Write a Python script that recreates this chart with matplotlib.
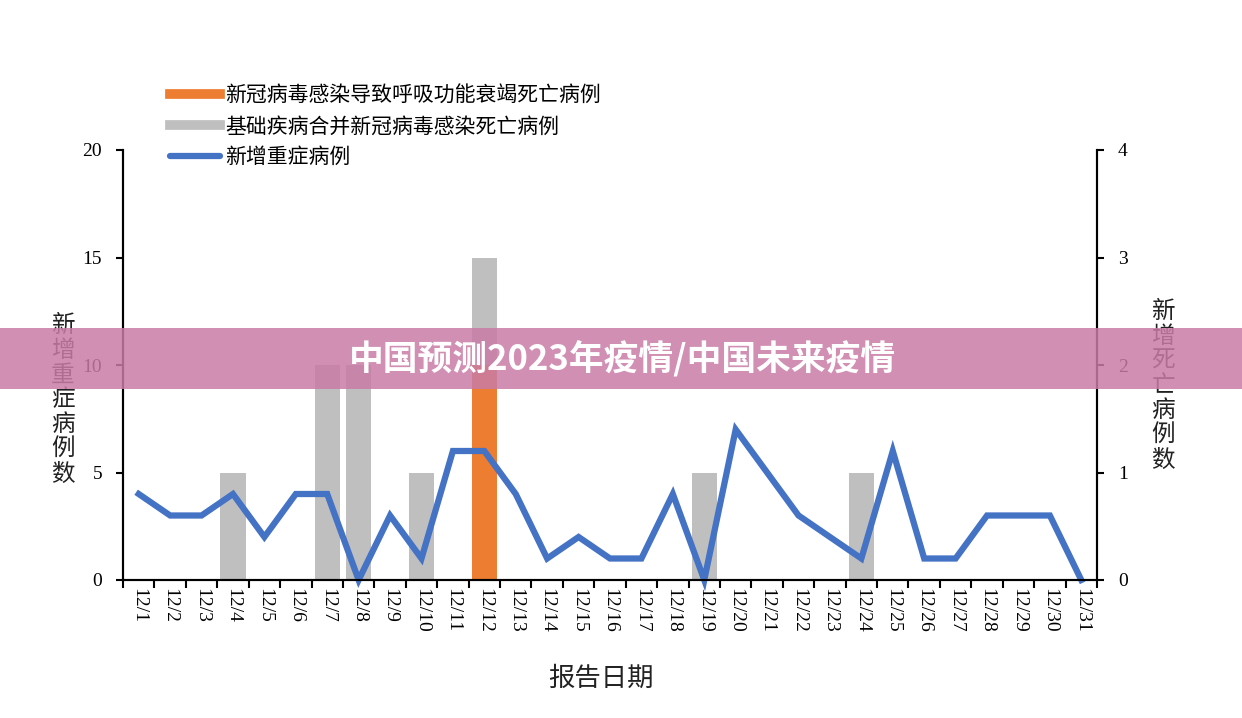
import matplotlib.pyplot as plt
from matplotlib.lines import Line2D
from matplotlib.patches import Rectangle
import numpy as np

plt.rcParams['font.family'] = ['Noto Sans CJK SC', 'DejaVu Sans']

# Data
dates = ['12/%d' % d for d in range(1, 32)]
severe = [4, 3, 3, 4, 2, 4, 4, 0, 3, 1, 6, 6, 4, 1, 2, 1, 1, 4, 0, 7, 5, 3, 2, 1, 6, 1, 1, 3, 3, 3, 0]
resp_deaths = [0, 0, 0, 0, 0, 0, 0, 0, 0, 0, 0, 2, 0, 0, 0, 0, 0, 0, 0, 0, 0, 0, 0, 0, 0, 0, 0, 0, 0, 0, 0]
comorb_deaths = [0, 0, 0, 1, 0, 0, 2, 2, 0, 1, 0, 1, 0, 0, 0, 0, 0, 0, 1, 0, 0, 0, 0, 1, 0, 0, 0, 0, 0, 0, 0]

left_ticks = [0, 5, 10, 15, 20]
right_ticks = [0, 1, 2, 3, 4]

lbl_resp = '新冠病毒感染导致呼吸功能衰竭死亡病例'
lbl_comorb = '基础疾病合并新冠病毒感染死亡病例'
lbl_severe = '新增重症病例'

orange = '#ED7D31'
grey = '#BFBFBF'
blue = '#4472C4'
serif = 'Liberation Serif'

fig = plt.figure(figsize=(12.42, 7.18), dpi=100)
ax = fig.add_axes([123 / 1242, 1 - 580 / 718, (1097 - 123) / 1242, (580 - 150) / 718])
ax2 = ax.twinx()

x = np.arange(len(dates))

# bars on the right axis
ax2.bar(x, resp_deaths, width=0.8, color=orange)
ax2.bar(x, comorb_deaths, width=0.8, bottom=resp_deaths, color=grey)
ax2.set_ylim(0, 4)
ax2.set_yticks(right_ticks)

# line on the left axis, drawn above the bars
ax.plot(x, severe, color=blue, lw=4.5, solid_joinstyle='miter', clip_on=False)
ax.set_ylim(0, 20)
ax.set_yticks(left_ticks)
ax.set_xlim(-0.5, len(dates) - 0.5)
ax.set_zorder(ax2.get_zorder() + 1)
ax.patch.set_visible(False)

# ticks between categories, labels at category centres
ax.set_xticks(np.arange(len(dates) + 1) - 0.5)
ax.set_xticklabels([])
ax.set_xticks(x, minor=True)
ax.set_xticklabels(dates, minor=True, rotation=-90, fontfamily=serif, fontsize=14, va='top')
ax.tick_params(axis='x', which='minor', length=0, pad=6)
ax.tick_params(axis='x', which='major', length=6, width=1.5, direction='out')

for a in (ax, ax2):
    a.spines['top'].set_visible(False)
    for s in ('left', 'right', 'bottom'):
        a.spines[s].set_linewidth(1.5)
ax.tick_params(axis='y', length=5, width=1.5, labelsize=14, pad=10)
ax2.tick_params(axis='y', length=5, width=1.5, labelsize=14, pad=10)
for t in ax.get_yticklabels() + ax2.get_yticklabels():
    t.set_fontfamily(serif)

# axis titles, characters stacked vertically
fig.text(63 / 1242, 1 - 400 / 718, '\n'.join('新增重症病例数'), ha='center', va='center',
         fontsize=17, linespacing=1.1, color='#222222')
fig.text(1163 / 1242, 1 - 386 / 718, '\n'.join('新增死亡病例数'), ha='center', va='center',
         fontsize=17, linespacing=1.1, color='#222222')
fig.text(601 / 1242, 1 - 678 / 718, '报告日期', ha='center', va='center', fontsize=19, color='#222222')

# legend
handles = [Line2D([], [], color=orange, lw=7),
           Line2D([], [], color=grey, lw=7),
           Line2D([], [], color=blue, lw=4.5, solid_capstyle='round')]
ax.legend(handles, [lbl_resp, lbl_comorb, lbl_severe], loc='upper left',
          bbox_to_anchor=(151 / 1242, 1 - 66 / 718), bbox_transform=fig.transFigure,
          frameon=False, fontsize=15, handlelength=2.4, handletextpad=0.25, labelspacing=0.42)

# banner overlay
fig.patches.append(Rectangle((0, 1 - 389 / 718), 1, 61 / 718, transform=fig.transFigure,
                             facecolor='#C97BA6', alpha=0.85, edgecolor='none', zorder=5))
fig.text(622 / 1242, 1 - 359 / 718, '中国预测2023年疫情/中国未来疫情', ha='center', va='center',
         fontsize=25, fontweight='bold', color='white', zorder=6)

fig.savefig('out.png', dpi=100)
